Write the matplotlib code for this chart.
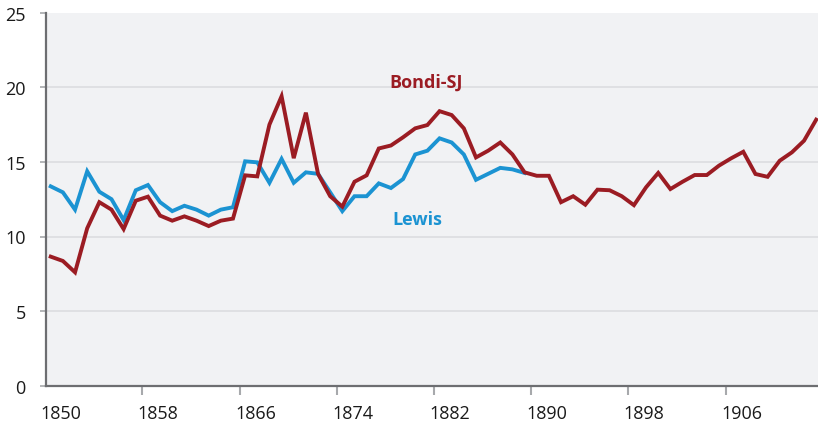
import matplotlib
matplotlib.use("Agg")
import matplotlib.pyplot as plt
import numpy as np

plt.rcParams['font.family'] = ['Open Sans', 'DejaVu Sans']

# Bondi-SJ series 1850-1913
bondi_start = 1850
bondi = [8.65, 8.36, 7.6, 10.55, 12.3, 11.8, 10.5, 12.4, 12.67, 11.4,
         11.06, 11.35, 11.06, 10.7, 11.06, 11.2, 14.1, 14.03, 17.5, 19.4,
         15.25, 18.3, 14.2, 12.7, 12.0, 13.67, 14.1, 15.9, 16.1, 16.65,
         17.25, 17.47, 18.4, 18.14, 17.25, 15.3, 15.75, 16.3, 15.5, 14.3,
         14.07, 14.07, 12.3, 12.7, 12.13, 13.14, 13.1, 12.7, 12.1, 13.3,
         14.26, 13.18, 13.67, 14.12, 14.12, 14.75, 15.24, 15.68, 14.19, 14.0,
         15.08, 15.64, 16.42, 17.83]

# Lewis series 1850-1889
lewis_start = 1850
lewis = [13.36, 12.96, 11.8, 14.37, 13.0, 12.5, 11.1, 13.1, 13.45, 12.3,
         11.7, 12.06, 11.8, 11.4, 11.8, 11.96, 15.04, 14.97, 13.6, 15.2,
         13.6, 14.3, 14.2, 12.96, 11.7, 12.7, 12.7, 13.56, 13.25, 13.85,
         15.5, 15.75, 16.58, 16.3, 15.5, 13.8, 14.2, 14.6, 14.5, 14.26]

label_years = [1850, 1858, 1866, 1874, 1882, 1890, 1898, 1906]
y_ticks = [0, 5, 10, 15, 20, 25]

red = "#9b1c23"
blue = "#1b93d2"
grey = "#6d6e71"

bondi_x = np.arange(bondi_start, bondi_start + len(bondi))
lewis_x = np.arange(lewis_start, lewis_start + len(lewis))

fig = plt.figure(figsize=(8.18, 4.27), dpi=100)
ax = fig.add_axes([46 / 818, 1 - 386.7 / 427, 772 / 818, 373 / 427])
ax.set_facecolor("#f1f2f4")

for y in y_ticks[1:-1]:
    ax.axhline(y, color="#dcdde0", lw=1.2, zorder=1)

ax.plot(lewis_x, lewis, color=blue, lw=2.8, solid_joinstyle="miter", zorder=3)
ax.plot(bondi_x, bondi, color=red, lw=2.8, solid_joinstyle="miter", zorder=4)

ax.text(1877.9, 20.4, "Bondi-SJ", color=red, fontsize=13, fontweight="bold",
        va="center", ha="left")
ax.text(1878.1, 11.2, "Lewis", color=blue, fontsize=13, fontweight="bold",
        va="center", ha="left")

ax.set_xlim(1849.61, 1913.15)
ax.set_ylim(0, 25)

for s in ["top", "right"]:
    ax.spines[s].set_visible(False)
for s in ["left", "bottom"]:
    ax.spines[s].set_color(grey)
    ax.spines[s].set_linewidth(1.6)

ax.set_yticks(y_ticks)
ax.tick_params(axis="y", length=4.5, width=1.2, color="#a7a9ac", pad=10,
               labelsize=13, labelcolor="#1a1a1a")

ax.set_xticks([y - 0.45 for y in label_years[1:]])
ax.set_xticklabels([])
ax.tick_params(axis="x", which="major", length=6.5, width=1.5, color="#a7a9ac")
ax.set_xticks([y + 0.85 for y in label_years], minor=True)
ax.set_xticklabels([str(y) for y in label_years], minor=True)
ax.tick_params(axis="x", which="minor", length=0, pad=13.5, labelsize=13,
               labelcolor="#1a1a1a")

fig.savefig("out.png", dpi=100)
